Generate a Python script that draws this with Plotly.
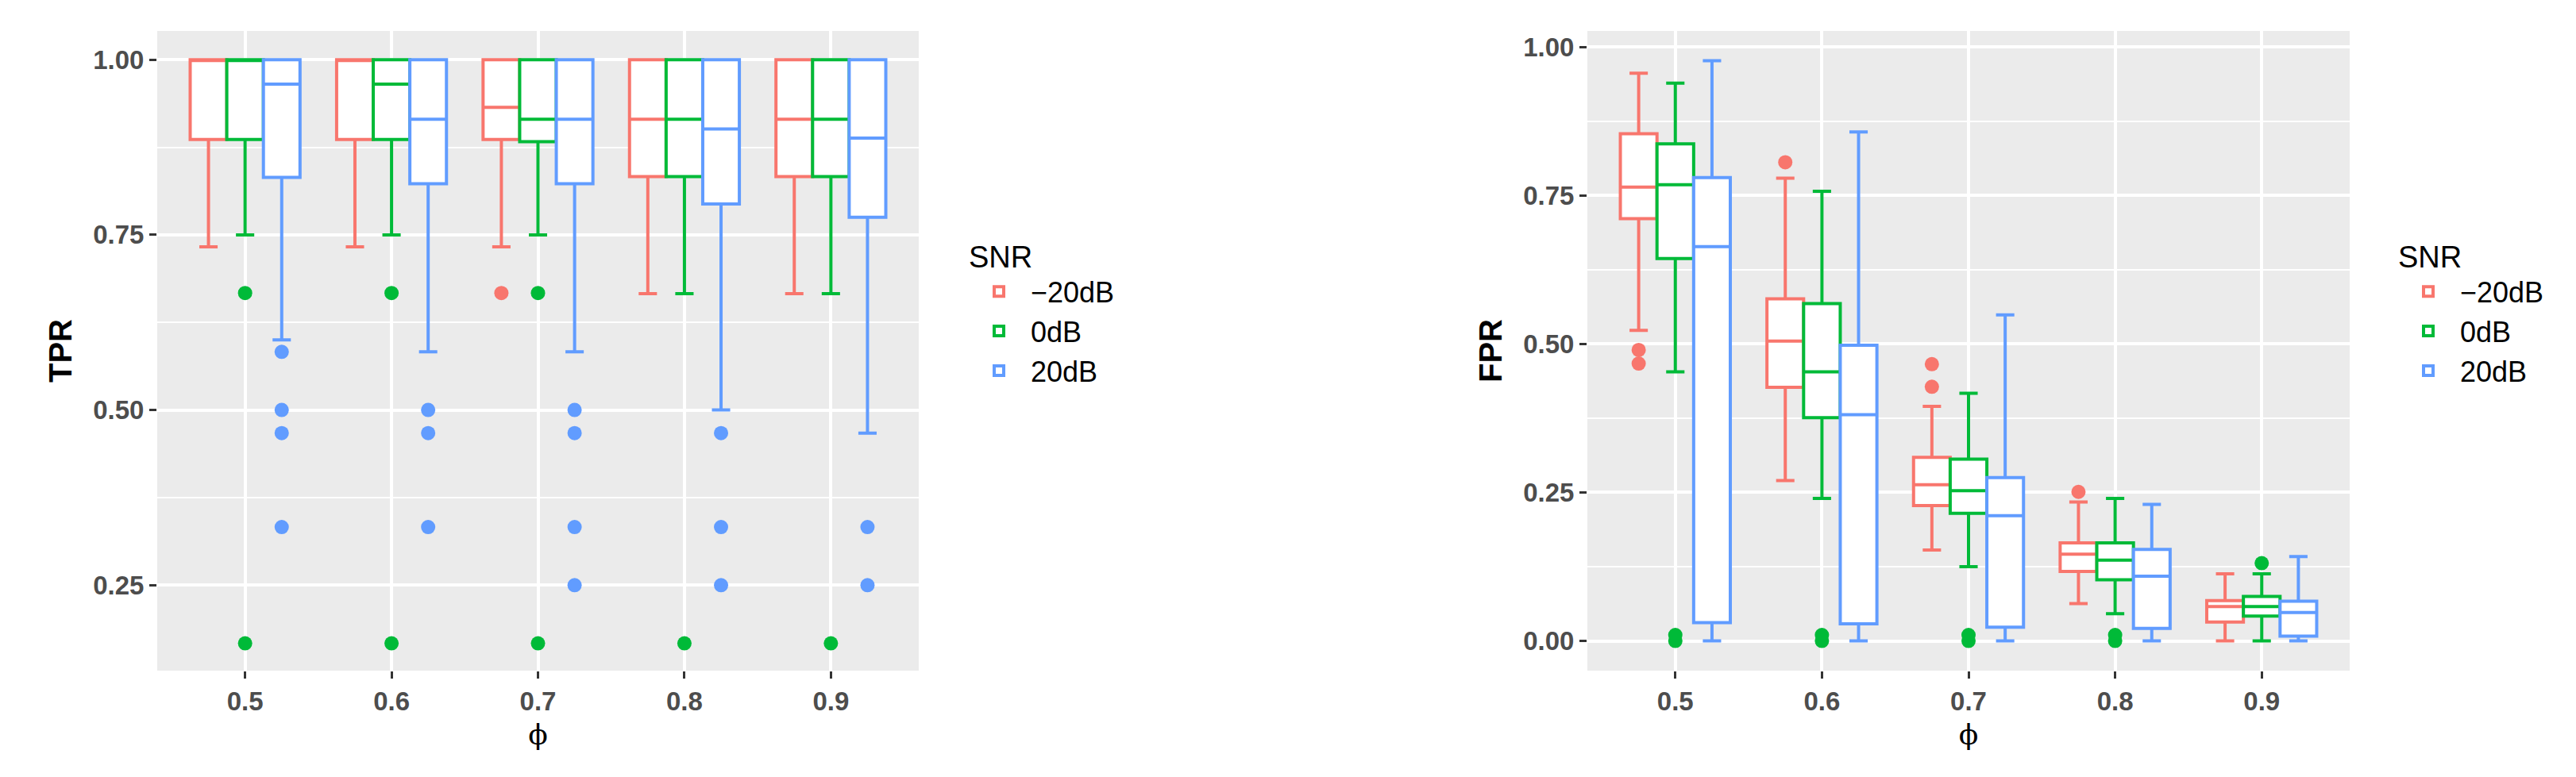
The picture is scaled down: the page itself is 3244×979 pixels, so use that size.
import plotly.graph_objects as go

W, H = 3244, 979
phi = [0.5, 0.6, 0.7, 0.8, 0.9]
snr = ["\u221220dB", "0dB", "20dB"]
colors = ["#F8766D", "#00BA38", "#619CFF"]
offsets = [-0.025, 0.0, 0.025]

# TPR stats per SNR: lower whisker, q1, median, q3, upper whisker
tpr_lo = [[0.733, 0.733, 0.733, 0.666, 0.666], [0.75, 0.75, 0.75, 0.666, 0.666], [0.60, 0.583, 0.583, 0.50, 0.467]]
tpr_q1 = [[0.886, 0.886, 0.886, 0.833, 0.833], [0.886, 0.886, 0.883, 0.833, 0.833], [0.832, 0.823, 0.823, 0.794, 0.775]]
tpr_med = [[1.0, 1.0, 0.932, 0.915, 0.915], [1.0, 0.965, 0.915, 0.915, 0.915], [0.965, 0.915, 0.915, 0.901, 0.888]]
tpr_q3 = [[1.0] * 5, [1.0] * 5, [1.0] * 5]
tpr_hi = [[1.0] * 5, [1.0] * 5, [1.0] * 5]
tpr_out_phi = [[0.7], [0.5, 0.5, 0.6, 0.6, 0.7, 0.7, 0.8, 0.9],
               [0.5, 0.5, 0.5, 0.5, 0.6, 0.6, 0.6, 0.7, 0.7, 0.7, 0.7, 0.8, 0.8, 0.8, 0.9, 0.9]]
tpr_out_val = [[0.667], [0.667, 0.167, 0.667, 0.167, 0.667, 0.167, 0.167, 0.167],
               [0.583, 0.5, 0.467, 0.333, 0.5, 0.467, 0.333, 0.5, 0.467, 0.333, 0.25, 0.467, 0.333, 0.25, 0.333, 0.25]]

# FPR stats
fpr_lo = [[0.523, 0.27, 0.153, 0.063, 0.0], [0.453, 0.24, 0.125, 0.046, 0.0], [0.0, 0.0, 0.0, 0.0, 0.0]]
fpr_q1 = [[0.711, 0.427, 0.228, 0.117, 0.032], [0.644, 0.376, 0.215, 0.103, 0.042], [0.031, 0.029, 0.023, 0.021, 0.008]]
fpr_med = [[0.764, 0.505, 0.263, 0.146, 0.058], [0.768, 0.453, 0.253, 0.136, 0.058], [0.664, 0.381, 0.211, 0.109, 0.048]]
fpr_q3 = [[0.854, 0.576, 0.309, 0.165, 0.068], [0.837, 0.568, 0.306, 0.165, 0.075], [0.78, 0.498, 0.275, 0.154, 0.067]]
fpr_hi = [[0.956, 0.779, 0.395, 0.234, 0.113], [0.939, 0.757, 0.417, 0.24, 0.113], [0.977, 0.857, 0.549, 0.23, 0.142]]
fpr_out_phi = [[0.5, 0.5, 0.6, 0.7, 0.7, 0.8], [0.5, 0.5, 0.6, 0.6, 0.7, 0.7, 0.8, 0.8, 0.9], []]
fpr_out_val = [[0.49, 0.467, 0.806, 0.466, 0.428, 0.251], [0.0, 0.01, 0.0, 0.01, 0.0, 0.01, 0.0, 0.01, 0.131], []]

fig = go.Figure()

def add_panel(xa, ya, legend, lo, q1, med, q3, hi, op, ov):
    for i in range(3):
        xs = [p + offsets[i] for p in phi]
        fig.add_trace(go.Box(
            x=xs, lowerfence=lo[i], q1=q1[i], median=med[i], q3=q3[i], upperfence=hi[i],
            width=0.025, name=snr[i], fillcolor="white", line=dict(color=colors[i], width=4),
            boxpoints=False, xaxis=xa, yaxis=ya, legend=legend, hoverinfo="skip"))
        fig.add_trace(go.Scatter(
            x=[p + offsets[i] for p in op[i]], y=ov[i], mode="markers",
            marker=dict(color=colors[i], size=18), showlegend=False,
            xaxis=xa, yaxis=ya, hoverinfo="skip"))

add_panel("x", "y", "legend", tpr_lo, tpr_q1, tpr_med, tpr_q3, tpr_hi, tpr_out_phi, tpr_out_val)
add_panel("x2", "y2", "legend2", fpr_lo, fpr_q1, fpr_med, fpr_q3, fpr_hi, fpr_out_phi, fpr_out_val)

tfont = dict(family="Liberation Sans", size=33, color="#4D4D4D", weight="bold")
xcommon = dict(tickvals=phi, ticktext=[f"{p:.1f}" for p in phi], range=[0.44, 0.96],
               showgrid=True, gridcolor="white", gridwidth=4, zeroline=False,
               ticks="outside", ticklen=9, tickwidth=3, tickcolor="#333333", tickfont=tfont,
               title=dict(text="\u03d5", font=dict(family="DejaVu Serif", size=36, color="black"), standoff=12))
ycommon = dict(showgrid=True, gridcolor="white", gridwidth=4, zeroline=False,
               ticks="outside", ticklen=9, tickwidth=3, tickcolor="#333333", tickfont=tfont,
               minor=dict(showgrid=True, gridcolor="white", gridwidth=2, dtick=0.125, tick0=0.125))

legcommon = dict(xanchor="left", yanchor="top", y=1 - 280 / H, bgcolor="rgba(0,0,0,0)",
                 title=dict(text="SNR", font=dict(family="Liberation Sans", size=38, color="black")),
                 font=dict(family="Liberation Sans", size=36, color="black"), itemwidth=70)

fig.update_layout(
    width=W, height=H, margin=dict(l=0, r=0, t=0, b=0),
    paper_bgcolor="white", plot_bgcolor="#EBEBEB", boxmode="overlay",
    xaxis=dict(domain=[190 / W, 1149 / W], anchor="y", **xcommon),
    yaxis=dict(domain=[142 / H, 948 / H], anchor="x", range=[0.128, 1.041],
               tickvals=[0.25, 0.5, 0.75, 1.0], ticktext=["0.25", "0.50", "0.75", "1.00"],
               title=dict(text="<b>TPR</b>", font=dict(family="Liberation Sans", size=40, color="black"), standoff=14),
               **ycommon),
    xaxis2=dict(domain=[1991 / W, 2951 / W], anchor="y2", **xcommon),
    yaxis2=dict(domain=[142 / H, 948 / H], anchor="x2", range=[-0.05, 1.027],
                tickvals=[0, 0.25, 0.5, 0.75, 1.0], ticktext=["0.00", "0.25", "0.50", "0.75", "1.00"],
                title=dict(text="<b>FPR</b>", font=dict(family="Liberation Sans", size=40, color="black"), standoff=14),
                **ycommon),
    legend=dict(x=1210 / W, **legcommon),
    legend2=dict(x=3010 / W, **legcommon),
)

fig.write_html("out.html")
